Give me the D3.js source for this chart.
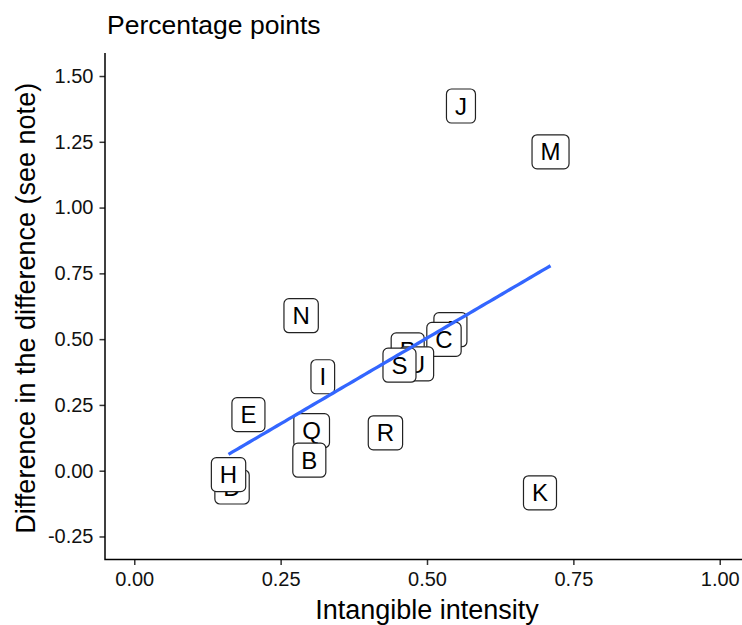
<!DOCTYPE html>
<html>
<head>
<meta charset="utf-8">
<script src="https://cdn.jsdelivr.net/npm/d3@7"></script>
<style>
  html, body { margin: 0; padding: 0; background: #fff; }
  svg { display: block; font-family: "Liberation Sans", Arial, sans-serif; }
</style>
</head>
<body>
<svg id="chart" width="742" height="625"></svg>
<script>
// Point labels, in drawing order (later labels sit on top)
const labels = ["J", "M", "N", "I", "E", "Q", "B", "D", "H", "R", "K", "A", "C", "P", "U", "S"];
// Intangible intensity
const xValues = [0.558, 0.711, 0.285, 0.322, 0.195, 0.303, 0.299, 0.167, 0.161, 0.429, 0.693, 0.540, 0.529, 0.467, 0.482, 0.453];
// Difference in the difference, percentage points
const yValues = [1.386, 1.212, 0.589, 0.357, 0.213, 0.152, 0.040, -0.062, -0.015, 0.144, -0.084, 0.536, 0.499, 0.459, 0.406, 0.401];

const xTicks = [0, 0.25, 0.5, 0.75, 1];
const yTicks = [-0.25, 0, 0.25, 0.5, 0.75, 1, 1.25, 1.5];

const points = labels.map((k, i) => ({ label: k, x: xValues[i], y: yValues[i] }));

const svg = d3.select("#chart");
const panel = { left: 105, right: 749, top: 53, bottom: 559.5 };

const x = d3.scaleLinear().domain([-0.05, 1.05]).range([panel.left, panel.right]);
const y = d3.scaleLinear().domain([-0.3375, 1.5875]).range([panel.bottom, panel.top]);

// Two decimals, plain hyphen for negatives
const fmt = v => v.toFixed(2);
const tickColor = "#333";

// Axes
const xAxis = svg.append("g")
  .attr("transform", `translate(0,${panel.bottom})`)
  .call(d3.axisBottom(x).tickValues(xTicks).tickFormat(fmt).tickSizeOuter(0).tickSize(5.5).tickPadding(7));
const yAxis = svg.append("g")
  .attr("transform", `translate(${panel.left},0)`)
  .call(d3.axisLeft(y).tickValues(yTicks).tickFormat(fmt).tickSizeOuter(0).tickSize(5.5).tickPadding(6));

[xAxis, yAxis].forEach(g => {
  g.select(".domain").remove();
  g.selectAll(".tick line").attr("stroke", tickColor).attr("stroke-width", 1.5);
  g.selectAll(".tick text")
    .attr("fill", "#111")
    .style("font-size", "20px")
    .style("font-family", "'Liberation Sans', Arial, sans-serif");
});

// Axis lines meeting at the bottom-left corner
svg.append("path")
  .attr("d", `M${panel.left},${panel.top}V${panel.bottom}H${panel.right}`)
  .attr("fill", "none")
  .attr("stroke", "#000")
  .attr("stroke-width", 1.5);

// Labelled points
const labelFont = 24, pad = 8.5, boxH = 34, radius = 5;
const lg = svg.append("g");
points.forEach(p => {
  const g = lg.append("g").attr("transform", `translate(${x(p.x)},${y(p.y)})`);
  const rect = g.append("rect");
  const t = g.append("text")
    .attr("text-anchor", "middle")
    .attr("dy", "0.36em")
    .style("font-size", labelFont + "px")
    .attr("fill", "#000")
    .text(p.label);
  const w = t.node().getComputedTextLength() + 2 * pad;
  rect.attr("x", -w / 2).attr("y", -boxH / 2)
    .attr("width", w).attr("height", boxH)
    .attr("rx", radius).attr("ry", radius)
    .attr("fill", "#fff").attr("stroke", "#222").attr("stroke-width", 1.2);
});

// Least-squares fit across the observed x range
const mx = d3.mean(xValues), my = d3.mean(yValues);
const sxy = d3.sum(xValues, (v, i) => (v - mx) * (yValues[i] - my));
const sxx = d3.sum(xValues, v => (v - mx) * (v - mx));
const slope = sxy / sxx, intercept = my - slope * mx;
const [x0, x1] = d3.extent(xValues);
const fit = d3.range(0, 81).map(i => {
  const xv = x0 + (x1 - x0) * i / 80;
  return [xv, intercept + slope * xv];
});
svg.append("path")
  .datum(fit)
  .attr("d", d3.line().x(d => x(d[0])).y(d => y(d[1])))
  .attr("fill", "none")
  .attr("stroke", "#3366FF")
  .attr("stroke-width", 3.3);

// Titles
svg.append("text")
  .attr("x", 107).attr("y", 34)
  .style("font-size", "26.5px")
  .attr("fill", "#000")
  .text("Percentage points");

svg.append("text")
  .attr("x", (panel.left + panel.right) / 2).attr("y", 619)
  .attr("text-anchor", "middle")
  .style("font-size", "27px")
  .attr("fill", "#000")
  .text("Intangible intensity");

svg.append("text")
  .attr("transform", `translate(35,${(panel.top + panel.bottom) / 2 + 2}) rotate(-90)`)
  .attr("text-anchor", "middle")
  .style("font-size", "27px")
  .attr("fill", "#000")
  .text("Difference in the difference (see note)");
</script>
</body>
</html>
